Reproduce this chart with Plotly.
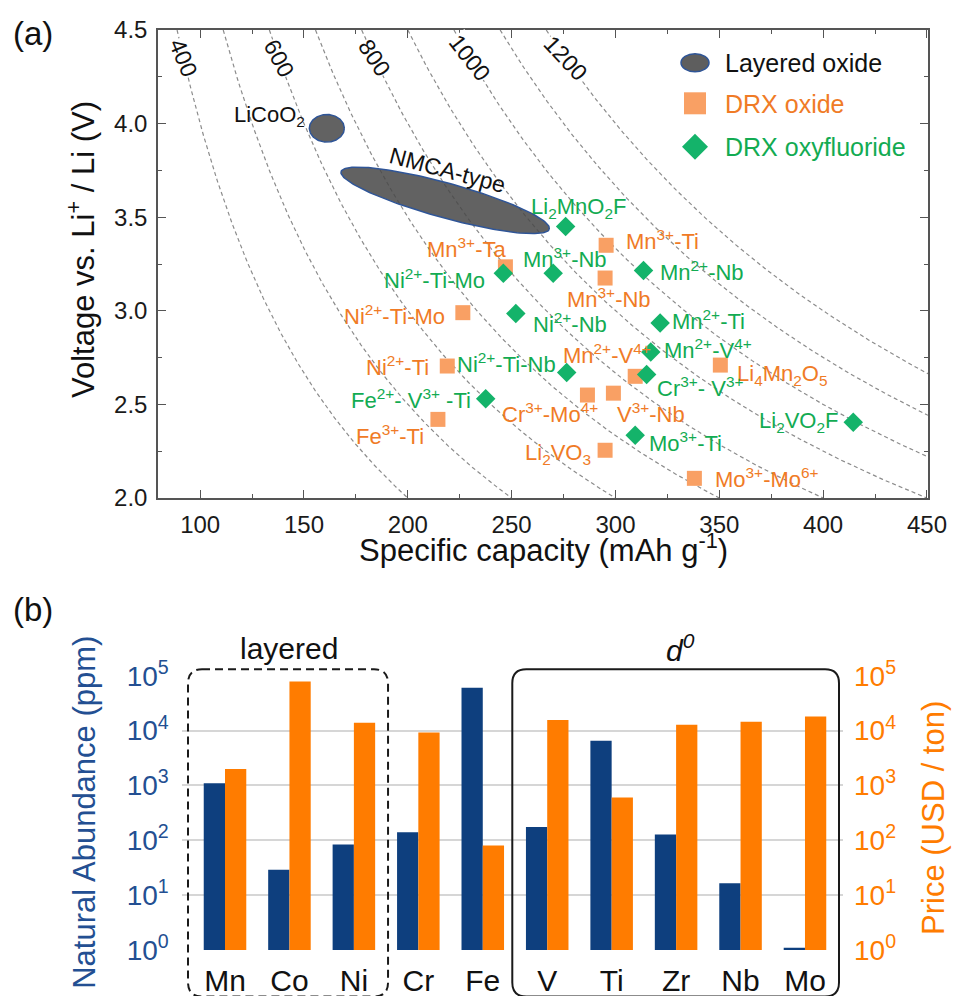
import numpy as np
import plotly.graph_objects as go

W, H = 953, 996
FONT = "Arial, 'Liberation Sans', Helvetica, sans-serif"

# ---------------- (a) voltage vs. specific capacity ----------------
oxide_names = [
    "Mn<sup>3+</sup>-Ti", "Mn<sup>3+</sup>-Ta", "Mn<sup>3+</sup>-Nb", "Ni<sup>2+</sup>-Ti-Mo",
    "Li<sub>4</sub>Mn<sub>2</sub>O<sub>5</sub>", "Mn<sup>2+</sup>-V<sup>4+</sup>", "Ni<sup>2+</sup>-Ti",
    "Cr<sup>3+</sup>-Mo<sup>4+</sup>", "V<sup>3+</sup>-Nb", "Fe<sup>3+</sup>-Ti",
    "Li<sub>2</sub>VO<sub>3</sub>", "Mo<sup>3+</sup>-Mo<sup>6+</sup>",
]
oxide_capacity = [295.5, 247.0, 295.0, 226.5, 350.5, 309.5, 219.0, 286.5, 299.0, 214.5, 295.0, 338.0]
oxide_voltage = [3.35, 3.235, 3.175, 2.99, 2.71, 2.65, 2.705, 2.55, 2.56, 2.42, 2.255, 2.105]

oxyfluoride_names = [
    "Li<sub>2</sub>MnO<sub>2</sub>F", "Ni<sup>2+</sup>-Ti-Mo", "Mn<sup>3+</sup>-Nb", "Mn<sup>2+</sup>-Nb",
    "Ni<sup>2+</sup>-Nb", "Mn<sup>2+</sup>-Ti", "Mn<sup>2+</sup>-V<sup>4+</sup>", "Cr<sup>3+</sup>- V<sup>3+</sup>",
    "Ni<sup>2+</sup>-Ti-Nb", "Fe<sup>2+</sup>- V<sup>3+</sup> -Ti", "Mo<sup>3+</sup>-Ti",
    "Li<sub>2</sub>VO<sub>2</sub>F",
]
oxyfluoride_capacity = [276.0, 246.0, 270.0, 313.5, 252.0, 321.5, 317.0, 315.0, 276.5, 237.5, 309.5, 414.5]
oxyfluoride_voltage = [3.45, 3.20, 3.20, 3.215, 2.985, 2.935, 2.78, 2.66, 2.67, 2.53, 2.335, 2.405]

layered_names = ["LiCoO<sub>2</sub>", "NMCA-type"]
layered_capacity = [161.0, 218.0]
layered_voltage = [3.975, 3.59]

energy_levels = [400, 500, 600, 700, 800, 900, 1000, 1100, 1200]   # Wh/kg iso-lines
energy_labels = [400, 600, 800, 1000, 1200]

x_ticks = [100, 150, 200, 250, 300, 350, 400, 450]
y_ticks = [2.0, 2.5, 3.0, 3.5, 4.0, 4.5]

# ---------------- (b) abundance and price ----------------
elements = ["Mn", "Co", "Ni", "Cr", "Fe", "V", "Ti", "Zr", "Nb", "Mo"]
abundance_ppm = [1100, 29, 84, 140, 60000, 175, 6500, 128, 16.5, 1.1]
price_usd_per_ton = [2000, 78000, 13900, 9200, 80, 15600, 600, 12700, 14500, 18000]
log_ticks = [1, 10, 100, 1000, 10000, 100000]
log_ticktext = ["10<sup>%d</sup>" % i for i in range(6)]

# ---------------- layout geometry (pixels) ----------------
A_LEFT, A_RIGHT, A_TOP, A_BOTTOM = 158, 928, 30, 498
A_XRANGE, A_YRANGE = [79.7, 450.5], [2.0, 4.5]
B_LEFT, B_RIGHT, B_TOP, B_BOTTOM = 181.7, 843, 675.7, 950
B_XRANGE = [-0.672, 9.59]

def px(xp):
    return xp / W

def py(yp):
    return 1 - yp / H

PX_PER_X = (A_RIGHT - A_LEFT) / (A_XRANGE[1] - A_XRANGE[0])
PX_PER_Y = (A_BOTTOM - A_TOP) / (A_YRANGE[1] - A_YRANGE[0])

ORANGE_MARK = "#F9A064"
ORANGE_TEXT = "#F07B26"
GREEN_MARK = "#14B36A"
GREEN_TEXT = "#12AB52"
GRAY_FILL = "rgba(72,72,72,0.86)"
EDGE_BLUE = "#2F5597"
NAVY = "#0E3F7E"
BAR_ORANGE = "#FF7C00"
AXIS_BLUE = "#234F92"

fig = go.Figure()

# iso-energy-density guide curves V = E / Q
for E in energy_levels:
    q = np.linspace(E / A_YRANGE[1], min(A_XRANGE[1], E / A_YRANGE[0]), 200)
    fig.add_trace(go.Scatter(
        x=q, y=E / q, mode="lines", hoverinfo="skip", showlegend=False,
        line=dict(color="#8C8C8C", width=1.2, dash="4px,3px"),
        xaxis="x", yaxis="y",
    ))

# layered-oxide regions drawn as ellipses (size/orientation in screen pixels)
ellipse_style = [(17.5, 13.8, 0.0), (108.0, 17.4, 15.4)]
for cx, cy, (a, b, ang) in zip(layered_capacity, layered_voltage, ellipse_style):
    t = np.linspace(0, 2 * np.pi, 181)
    th = np.radians(ang)
    dx = a * np.cos(t) * np.cos(th) - b * np.sin(t) * np.sin(th)
    dy = a * np.cos(t) * np.sin(th) + b * np.sin(t) * np.cos(th)
    fig.add_trace(go.Scatter(
        x=cx + dx / PX_PER_X, y=cy - dy / PX_PER_Y, mode="lines", fill="toself",
        fillcolor=GRAY_FILL, line=dict(color=EDGE_BLUE, width=1.5),
        hoverinfo="skip", showlegend=False, xaxis="x", yaxis="y",
    ))

fig.add_trace(go.Scatter(
    x=oxide_capacity, y=oxide_voltage, mode="markers", name="DRX oxide",
    marker=dict(symbol="square", size=15, color=ORANGE_MARK, line=dict(width=0)),
    showlegend=False, xaxis="x", yaxis="y",
))
fig.add_trace(go.Scatter(
    x=oxyfluoride_capacity, y=oxyfluoride_voltage, mode="markers", name="DRX oxyfluoride",
    marker=dict(symbol="diamond", size=15, color=GREEN_MARK, line=dict(width=0)),
    showlegend=False, xaxis="x", yaxis="y",
))

annotations = []
LABEL_SIZE = 22

# point labels: (anchor, x shift px, y shift px)
oxide_label_style = [
    ("left", 18, 5), ("right", 3, 19), ("center", 4, -20), ("right", -16, -2),
    ("left", 15, -10), ("right", 18, 22), ("right", -16, 0), ("right", 13, -18),
    ("left", 2, -20), ("right", -12, -16), ("right", -12, -4), ("left", 19, 0),
]
oxyfluoride_label_style = [
    ("center", 13, 19), ("right", -16, -6), ("center", 12, 15), ("left", 14, 0),
    ("left", 15, -9), ("left", 10, 3), ("left", 11, 3), ("left", 8, -13),
    ("right", -9, 10), ("right", -13, 0), ("left", 12, -7), ("right", -12, 0),
]
for names, xs, ys, styles, col in [
    (oxide_names, oxide_capacity, oxide_voltage, oxide_label_style, ORANGE_TEXT),
    (oxyfluoride_names, oxyfluoride_capacity, oxyfluoride_voltage, oxyfluoride_label_style, GREEN_TEXT),
]:
    for name, xv, yv, (anc, sx, sy) in zip(names, xs, ys, styles):
        annotations.append(dict(
            x=xv, y=yv, xref="x", yref="y", text=name, showarrow=False,
            xanchor=anc, yanchor="middle", xshift=sx, yshift=sy,
            font=dict(family=FONT, size=LABEL_SIZE, color=col),
        ))

layered_label_style = [("right", -20, 12, 0, 22), ("center", 2, 30, 15, 23)]
for name, xv, yv, (anc, sx, sy, ang, fs) in zip(layered_names, layered_capacity, layered_voltage, layered_label_style):
    annotations.append(dict(
        x=xv, y=yv, xref="x", yref="y", text=name, showarrow=False,
        xanchor=anc, yanchor="middle", xshift=sx, yshift=sy, textangle=ang,
        font=dict(family=FONT, size=fs, color="#111111"),
    ))

# iso-energy labels sitting on their curves near the top edge
label_voltage = 4.35
energy_label_angle = [68, 62, 57, 52, 47]
for E, ang in zip(energy_labels, energy_label_angle):
    annotations.append(dict(
        x=E / label_voltage, y=label_voltage, xref="x", yref="y", text=str(E),
        showarrow=False, textangle=ang, bgcolor="white", borderpad=0,
        xanchor="center", yanchor="middle",
        font=dict(family=FONT, size=23, color="#111111"),
    ))

# axis titles for (a)
annotations.append(dict(
    x=px((A_LEFT + A_RIGHT) / 2), y=py(548), xref="paper", yref="paper",
    text="Specific capacity (mAh g<sup>-1</sup>)", showarrow=False,
    xanchor="center", yanchor="middle", font=dict(family=FONT, size=31, color="#111111"),
))
annotations.append(dict(
    x=px(81), y=py(250), xref="paper", yref="paper",
    text="Voltage vs. Li<sup>+</sup> / Li (V)", showarrow=False, textangle=-90,
    xanchor="center", yanchor="middle", font=dict(family=FONT, size=31, color="#111111"),
))

# legend for (a)
shapes = []
LEG_X = 695
legend_rows = [("Layered oxide", "#111111", 62.7), ("DRX oxide", ORANGE_TEXT, 104), ("DRX oxyfluoride", GREEN_TEXT, 146.5)]
for text, col, yc in legend_rows:
    annotations.append(dict(
        x=px(723), y=py(yc), xref="paper", yref="paper", text=text, showarrow=False,
        xanchor="left", yanchor="middle", font=dict(family=FONT, size=25, color=col),
    ))
shapes.append(dict(type="circle", xref="paper", yref="paper",
                   x0=px(LEG_X - 14), x1=px(LEG_X + 14), y0=py(62.7 + 9), y1=py(62.7 - 9),
                   fillcolor="#5E5E5E", line=dict(color=EDGE_BLUE, width=1.5)))
shapes.append(dict(type="rect", xref="paper", yref="paper",
                   x0=px(LEG_X - 11), x1=px(LEG_X + 11), y0=py(103.3 + 11), y1=py(103.3 - 11),
                   fillcolor=ORANGE_MARK, line=dict(width=0)))
dc, dr = 146.7, 13
shapes.append(dict(type="path", xref="paper", yref="paper",
                   path="M %f,%f L %f,%f L %f,%f L %f,%f Z" % (
                       px(LEG_X - dr), py(dc), px(LEG_X), py(dc - dr),
                       px(LEG_X + dr), py(dc), px(LEG_X), py(dc + dr)),
                   fillcolor=GREEN_MARK, line=dict(width=0)))

# ---------------- (b) bars ----------------
positions = list(range(len(elements)))
BAR_W = 0.33
fig.add_trace(go.Bar(
    x=positions, y=abundance_ppm, width=BAR_W, offset=-BAR_W, marker=dict(color=NAVY, line=dict(width=0)),
    name="Natural Abundance", showlegend=False, xaxis="x2", yaxis="y2",
))
fig.add_trace(go.Bar(
    x=positions, y=price_usd_per_ton, width=BAR_W, offset=0, marker=dict(color=BAR_ORANGE, line=dict(width=0)),
    name="Price", showlegend=False, xaxis="x2", yaxis="y3",
))

annotations.append(dict(
    x=px(85), y=py((B_TOP + B_BOTTOM) / 2), xref="paper", yref="paper",
    text="Natural Abundance (ppm)", showarrow=False, textangle=-90,
    xanchor="center", yanchor="middle", font=dict(family=FONT, size=31, color=AXIS_BLUE),
))
annotations.append(dict(
    x=px(933), y=py(818), xref="paper", yref="paper",
    text="Price (USD / ton)", showarrow=False, textangle=-90,
    xanchor="center", yanchor="middle", font=dict(family=FONT, size=31, color=BAR_ORANGE),
))
annotations.append(dict(
    x=1.0, y=py(648), xref="x2", yref="paper", text="layered", showarrow=False,
    xanchor="center", yanchor="middle", font=dict(family=FONT, size=30, color="#111111"),
))
annotations.append(dict(
    x=7.07, y=py(648), xref="x2", yref="paper", text="<i>d</i><sup><i>0</i></sup>", showarrow=False,
    xanchor="center", yanchor="middle", font=dict(family=FONT, size=30, color="#111111"),
))

# group frames around layered-type and d0 elements
def rounded_box(x0, x1, yt, yb, rx, ry):
    return ("M %f,%f L %f,%f Q %f,%f %f,%f L %f,%f Q %f,%f %f,%f "
            "L %f,%f Q %f,%f %f,%f L %f,%f Q %f,%f %f,%f Z") % (
        x0 + rx, yt, x1 - rx, yt, x1, yt, x1, yt - ry,
        x1, yb + ry, x1, yb, x1 - rx, yb,
        x0 + rx, yb, x0, yb, x0, yb + ry,
        x0, yt - ry, x0, yt, x0 + rx, yt)

px_per_cat = (B_RIGHT - B_LEFT) / (B_XRANGE[1] - B_XRANGE[0])
rx, ry = 14 / px_per_cat, 14 / H
shapes.append(dict(type="path", xref="x2", yref="paper",
                   path=rounded_box(-0.574, 2.53, py(669.3), py(996.5), rx, ry),
                   line=dict(color="#1A1A1A", width=2, dash="8px,5px")))
shapes.append(dict(type="path", xref="x2", yref="paper",
                   path=rounded_box(4.458, 9.528, py(669.3), py(996.5), rx, ry),
                   line=dict(color="#1A1A1A", width=2)))

# panel tags
annotations.append(dict(x=px(33), y=py(34), xref="paper", yref="paper", text="(a)", showarrow=False,
                        xanchor="center", yanchor="middle",
                        font=dict(family=FONT, size=33, color="#111111")))
annotations.append(dict(x=px(33), y=py(609), xref="paper", yref="paper", text="(b)", showarrow=False,
                        xanchor="center", yanchor="middle",
                        font=dict(family=FONT, size=33, color="#111111")))

frame = dict(showline=True, linecolor="#555555", linewidth=1.5, mirror="ticks",
             ticks="inside", ticklen=8, tickwidth=1.3, tickcolor="#555555",
             showgrid=False, zeroline=False,
             tickfont=dict(family=FONT, size=24, color="#1A1A1A"))

fig.update_layout(
    width=W, height=H, autosize=False,
    margin=dict(l=0, r=0, t=0, b=0, pad=0, autoexpand=False),
    paper_bgcolor="white", plot_bgcolor="white",
    showlegend=False,
    xaxis=dict(domain=[px(A_LEFT), px(A_RIGHT)], range=A_XRANGE, anchor="y",
               tickvals=x_ticks, ticktext=[str(v) for v in x_ticks],
               minor=dict(ticks="inside", ticklen=4, tickwidth=1.2, tickcolor="#555555", dtick=25, tick0=0),
               ticklabelstandoff=4, automargin=False, **frame),
    yaxis=dict(domain=[py(A_BOTTOM), py(A_TOP)], range=A_YRANGE, anchor="x",
               tickvals=y_ticks, ticktext=["%.1f" % v for v in y_ticks],
               minor=dict(ticks="inside", ticklen=4, tickwidth=1.2, tickcolor="#555555", dtick=0.25, tick0=0),
               ticklabelstandoff=4, automargin=False, **frame),
    xaxis2=dict(domain=[px(B_LEFT), px(B_RIGHT)], range=B_XRANGE, anchor="y2",
                tickvals=positions, ticktext=elements, showline=False, showgrid=False, zeroline=False,
                ticks="", ticklabelstandoff=10, automargin=False,
                tickfont=dict(family=FONT, size=30, color="#111111")),
    yaxis2=dict(domain=[py(B_BOTTOM), py(B_TOP)], type="log", range=[0, 5], anchor="x2",
                tickvals=log_ticks, ticktext=log_ticktext, showline=False, zeroline=False,
                showgrid=True, gridcolor="#D6D6D6", gridwidth=1.5, ticks="", ticklabelstandoff=12,
                automargin=False, tickfont=dict(family=FONT, size=28, color=AXIS_BLUE)),
    yaxis3=dict(type="log", range=[0, 5], overlaying="y2", side="right", anchor="x2",
                tickvals=log_ticks, ticktext=log_ticktext, showline=False, zeroline=False,
                showgrid=False, ticks="", ticklabelstandoff=10, automargin=False,
                tickfont=dict(family=FONT, size=28, color=BAR_ORANGE)),
    annotations=annotations,
    shapes=shapes,
)

fig.write_html("out.html")
